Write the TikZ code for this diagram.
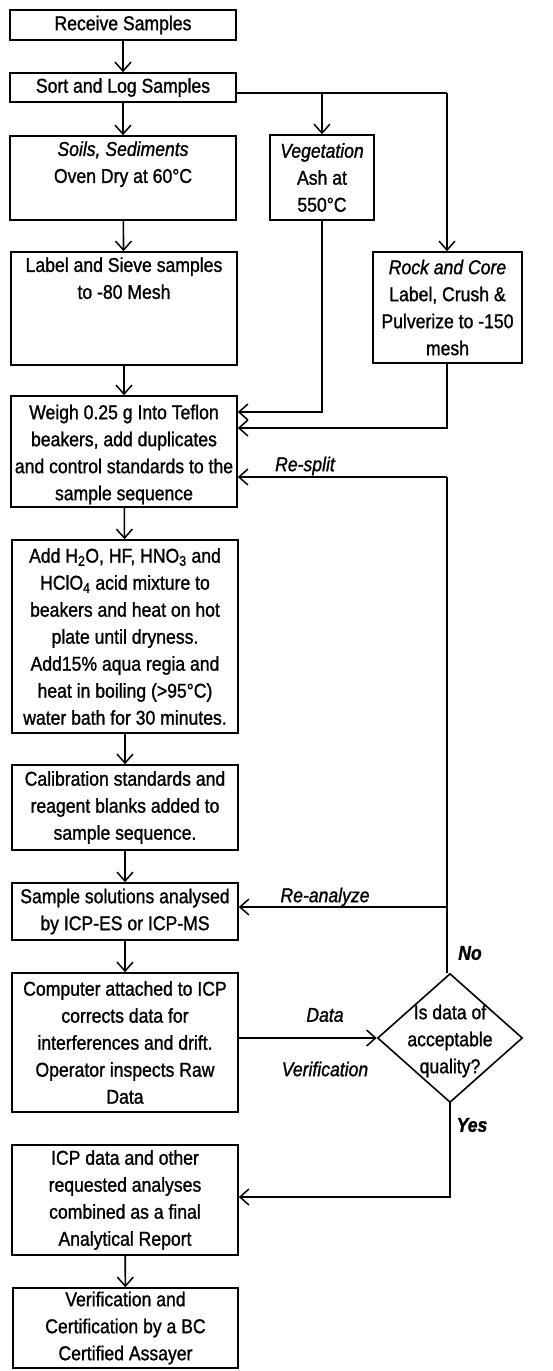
\documentclass[tikz,border=0pt]{standalone}
\usepackage{fontspec}
\setmainfont{Liberation Sans}[FakeStretch=0.88,FakeBold=1.2]
\usetikzlibrary{arrows.meta,shapes.geometric}
\tikzset{
  box/.style={draw, line width=1.6pt, rectangle, inner sep=0pt},
  txt/.style={font=\fontsize{20}{27}\selectfont, align=center, inner sep=0pt},
  lbl/.style={font=\fontsize{20}{27}\selectfont\itshape, inner sep=0pt},
  yn/.style={font=\fontsize{20}{27}\selectfont\bfseries\itshape, inner sep=0pt},
  conn/.style={line width=1.6pt},
  arr/.style={line width=1.6pt, -{Straight Barb[length=9pt,width=16pt,line width=1.5pt]}},
  dia/.style={draw, line width=1.6pt, diamond, inner sep=0pt, minimum width=145pt, minimum height=129pt}
}
\begin{document}
\begin{tikzpicture}[x=1pt,y=-1pt]
\useasboundingbox (0,0) rectangle (553,1371);
% boxes
\node[box, minimum width=226pt, minimum height=30pt] (recv) at (123,25) {};
\node[box, minimum width=226pt, minimum height=29pt] (sort) at (123,87.5) {};
\node[box, minimum width=226pt, minimum height=84pt] (soils) at (123,178) {};
\node[box, minimum width=104pt, minimum height=85pt] (veg) at (322,177.5) {};
\node[box, minimum width=226pt, minimum height=113pt] (sieve) at (124,308.5) {};
\node[box, minimum width=149pt, minimum height=111pt] (rock) at (447.5,307.5) {};
\node[box, minimum width=226pt, minimum height=111pt] (weigh) at (124,451.5) {};
\node[box, minimum width=226pt, minimum height=193pt] (add) at (125,636.5) {};
\node[box, minimum width=226pt, minimum height=85pt] (calib) at (125,807.5) {};
\node[box, minimum width=226pt, minimum height=57pt] (samp) at (125,911.5) {};
\node[box, minimum width=226pt, minimum height=139pt] (comp) at (125,1042.5) {};
\node[box, minimum width=226pt, minimum height=110pt] (icp) at (125,1200) {};
\node[box, minimum width=225pt, minimum height=80pt] (verif) at (125.5,1328) {};
\node[dia] (qual) at (450,1038) {};
% texts
\node[txt] (t1) at (recv.center) {Receive Samples};
\node[txt] (t2) at (sort.center) {Sort and Log Samples};
\node[txt, anchor=north] (t3) at ([yshift=-6pt]soils.north) {\itshape Soils, Sediments\\Oven Dry at 60°C};
\node[txt] (t4) at (veg.center) {\itshape Vegetation\\Ash at\\550°C};
\node[txt, anchor=north] (t5) at ([yshift=-6pt]sieve.north) {Label and Sieve samples\\to -80 Mesh};
\node[txt] (t6) at (rock.center) {\itshape Rock and Core\\Label, Crush \&\\Pulverize to -150\\mesh};
\node[txt] (t7) at ([yshift=-3pt]weigh.center) {Weigh 0.25 g Into Teflon\\beakers, add duplicates\\and control standards to the\\sample sequence};
\node[txt] (t8) at (add.center) {Add H\textsubscript{2}O, HF, HNO\textsubscript{3} and\\HClO\textsubscript{4} acid mixture to\\beakers and heat on hot\\plate until dryness.\\Add15\% aqua regia and\\heat in boiling (>95°C)\\water bath for 30 minutes.};
\node[txt] (t9) at (calib.center) {Calibration standards and\\reagent blanks added to\\sample sequence.};
\node[txt] (t10) at (samp.center) {Sample solutions analysed\\by ICP-ES or ICP-MS};
\node[txt] (t11) at (comp.center) {Computer attached to ICP\\corrects data for\\interferences and drift.\\Operator inspects Raw\\Data};
\node[txt] (t12) at (icp.center) {ICP data and other\\requested analyses\\combined as a final\\Analytical Report};
\node[txt] (t13) at (verif.center) {Verification and\\Certification by a BC\\Certified Assayer};
\node[txt] (t14) at ([yshift=-3pt]qual.center) {Is data of\\acceptable\\quality?};
% coordinates
\coordinate (j1) at (322,93);
\coordinate (j2) at (447,93);
\coordinate (v1) at (322,412);
\coordinate (r1) at (447,428);
\coordinate (s1) at (447,477);
\coordinate (a1) at (447,907);
\coordinate (q1) at (447,973);
\coordinate (y1) at (450,1197);
% connectors
\draw[arr] (recv) -- (sort);
\draw[arr] (sort) -- (soils);
\draw[conn] (sort.east |- j1) -- (j2);
\draw[arr] (j1) -- (veg.north);
\draw[arr] (j2) -- (rock.north -| j2);
\draw[arr] (soils) -- (sieve);
\draw[arr] (sieve) -- (weigh);
\draw[arr] (veg.south) -- (v1) -- (weigh.east |- v1);
\draw[arr] (rock.south -| r1) -- (r1) -- (weigh.east |- r1);
\draw[arr] (weigh) -- (add);
\draw[arr] (add) -- (calib);
\draw[arr] (calib) -- (samp);
\draw[arr] (samp) -- (comp);
\draw[conn] (q1) -- (s1);
\draw[arr] (s1) -- (weigh.east |- s1);
\draw[arr] (a1) -- (samp.east |- a1);
\draw[arr] (comp.east |- qual.west) -- (qual.west);
\draw[arr] (qual.south) -- (y1) -- (icp.east |- y1);
\draw[arr] (icp) -- (verif);
% labels
\node[lbl] (l1) at (305,466) {Re-split};
\node[lbl] (l2) at (325,897) {Re-analyze};
\node[yn] (l3) at (470,953) {No};
\node[lbl] (l4) at (325,1015) {Data};
\node[lbl] (l5) at (325,1069) {Verification};
\node[yn] (l6) at (472,1125) {Yes};
\end{tikzpicture}
\end{document}
